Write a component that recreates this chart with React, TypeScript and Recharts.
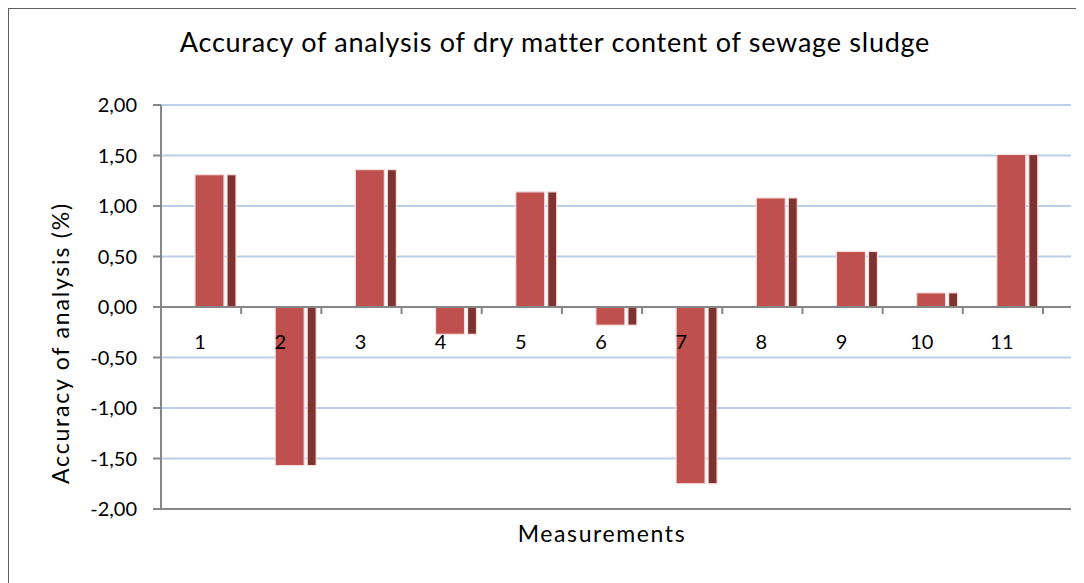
import { BarChart, Bar, XAxis, YAxis, CartesianGrid, ReferenceLine, Label } from 'recharts';

const categories = ['1', '2', '3', '4', '5', '6', '7', '8', '9', '10', '11'];
const accuracy = [1.31, -1.57, 1.36, -0.27, 1.14, -0.18, -1.75, 1.08, 0.55, 0.14, 1.51];
const yTicks = [-2, -1.5, -1, -0.5, 0, 0.5, 1, 1.5, 2];

const data = categories.map((name, i) => ({ name, value: accuracy[i] }));

const FONT = 'Lato, "Open Sans", sans-serif';
const AXIS_GRAY = '#868686';
const BORDER_GRAY = '#5f5f5f';
const GRID_BLUE = '#bccfe6';
const FRONT = '#c0504d';
const SIDE = '#7f3331';

const CHART_W = 1074;
const CHART_H = 573;
const PLOT_H = 404;
const PAD_RIGHT = 28;
const PLOT_W = 910;
const BAND = (PLOT_W - PAD_RIGHT) / categories.length;

// 3D-looking column: front face plus darker side face, shifted like Excel's perspective
const Column3D = (props: any) => {
  const { x, y, height } = props;
  if (!height) return null;
  const top = height < 0 ? y + height : y;
  const h = Math.abs(height);
  const dx = 14;
  return (
    <g>
      <rect x={x + dx} y={top} width={29} height={h} fill={FRONT} stroke="#f6dede" strokeWidth={1.2} />
      <rect x={x + dx + 32} y={top} width={9} height={h} fill={SIDE} stroke="#f6dede" strokeWidth={1.2} />
    </g>
  );
};

// category labels sit under the zero line, tick marks at category boundaries
const CategoryTick = (props: any) => {
  const { x, y, payload } = props;
  const zeroY = y - PLOT_H / 2;
  return (
    <g>
      <line x1={x + BAND / 2} x2={x + BAND / 2} y1={zeroY} y2={zeroY + 7} stroke={AXIS_GRAY} strokeWidth={2} />
      <text x={x - 1} y={zeroY + 34} textAnchor="middle" dominantBaseline="central" fontSize={20} fill="#000" fontFamily={FONT}>
        {payload.value}
      </text>
    </g>
  );
};

const YTitle = (props: any) => {
  const { viewBox } = props;
  const cx = viewBox.x + 51;
  const cy = viewBox.y + viewBox.height / 2 + 36;
  return (
    <text
      x={cx}
      y={cy}
      transform={`rotate(-90, ${cx}, ${cy})`}
      textAnchor="middle"
      dominantBaseline="central"
      fontSize={23}
      letterSpacing={1.8}
      fill="#000"
      fontFamily={FONT}
    >
      Accuracy of analysis (%)
    </text>
  );
};

const XTitle = (props: any) => {
  const { viewBox } = props;
  const cx = viewBox.x + (viewBox.width - PAD_RIGHT) / 2;
  return (
    <text
      x={cx}
      y={viewBox.y + 24}
      textAnchor="middle"
      dominantBaseline="central"
      fontSize={23}
      letterSpacing={1.6}
      fill="#000"
      fontFamily={FONT}
    >
      Measurements
    </text>
  );
};

export default function App() {
  return (
    <div
      style={{
        position: 'relative',
        width: 1076,
        height: 575,
        background: '#fff',
        fontFamily: FONT,
      }}
    >
      {/* chart frame: only the top and left edges fall inside the window */}
      <div style={{ position: 'absolute', left: -1, top: -2, width: 1077, height: 3, background: BORDER_GRAY }} />
      <div style={{ position: 'absolute', left: -1, top: -2, width: 2, height: 577, background: BORDER_GRAY }} />
      <div
        style={{
          position: 'absolute',
          left: 0,
          top: 20,
          width: 1094,
          textAlign: 'center',
          fontSize: 27,
          letterSpacing: 0.75,
          lineHeight: '28px',
          color: '#000',
        }}
      >
        Accuracy of analysis of dry matter content of sewage sludge
      </div>
      <div style={{ position: 'absolute', left: 1, top: 0 }}>
        <BarChart width={CHART_W} height={CHART_H} data={data} margin={{ top: 97, right: 12, bottom: 0, left: 0 }} barSize={41}>
          <CartesianGrid horizontal vertical={false} stroke={GRID_BLUE} strokeWidth={2} />
          <XAxis
            dataKey="name"
            height={72}
            padding={{ left: 0, right: PAD_RIGHT }}
            axisLine={{ stroke: AXIS_GRAY, strokeWidth: 2 }}
            tickLine={false}
            tickSize={0}
            tickMargin={0}
            tick={<CategoryTick />}
            interval={0}
          >
            <Label content={<XTitle />} />
          </XAxis>
          <YAxis
            width={152}
            domain={[-2, 2]}
            ticks={yTicks}
            interval={0}
            tickFormatter={(v: number) => v.toFixed(2).replace('.', ',')}
            axisLine={{ stroke: AXIS_GRAY, strokeWidth: 2 }}
            tickLine={{ stroke: AXIS_GRAY, strokeWidth: 2 }}
            tickSize={8}
            tickMargin={16}
            tick={{ fontSize: 20, fill: '#000', fontFamily: FONT }}
          >
            <Label content={<YTitle />} />
          </YAxis>
          <ReferenceLine y={0} stroke={AXIS_GRAY} strokeWidth={2} />
          <Bar dataKey="value" shape={<Column3D />} isAnimationActive={false} />
        </BarChart>
      </div>
    </div>
  );
}
